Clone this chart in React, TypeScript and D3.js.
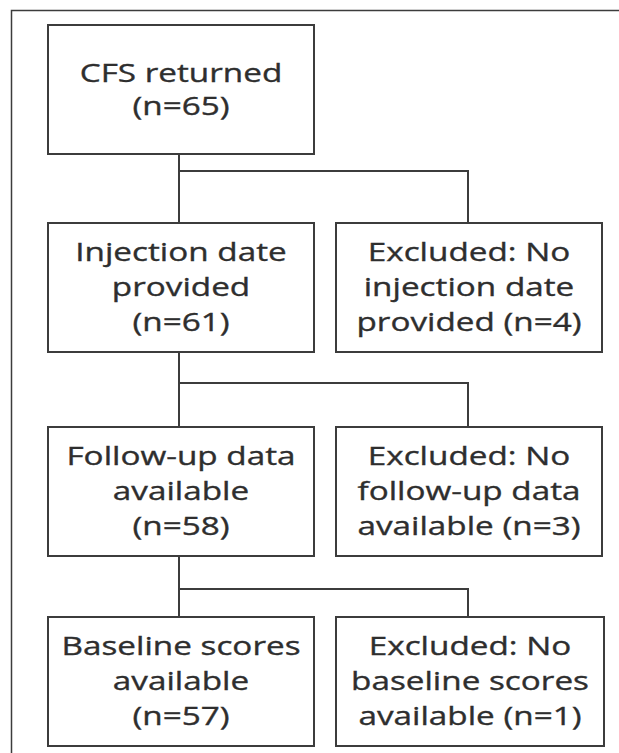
import React from "react";
import * as d3 from "d3";

// ---- data ----
const stages = ["CFS returned", "Injection date provided", "Follow-up data available", "Baseline scores available"];
const stageCounts = [65, 61, 58, 57];
const exclusions = ["", "No injection date provided", "No follow-up data available", "No baseline scores available"];
const exclusionCounts = [0, 4, 3, 1];

// text lines for each box (derived from data above)
const stageLines: string[][] = [
  ["CFS returned", `(n=${stageCounts[0]})`],
  ["Injection date", "provided", `(n=${stageCounts[1]})`],
  ["Follow-up data", "available", `(n=${stageCounts[2]})`],
  ["Baseline scores", "available", `(n=${stageCounts[3]})`],
];
const exclusionLines: string[][] = [
  [],
  ["Excluded: No", "injection date", `provided (n=${exclusionCounts[1]})`],
  ["Excluded: No", "follow-up data", `available (n=${exclusionCounts[2]})`],
  ["Excluded: No", "baseline scores", `available (n=${exclusionCounts[3]})`],
];

// ---- layout ----
const W = 619;
const H = 753;
const rowTop = [25, 223, 427, 617];
const rowBottom = [154, 352, 556, 746];
const branchY = [0, 171, 383, 589];
const leftX0 = 48, leftX1 = 314;
const rightX0 = 336, rightX1 = [0, 602, 602, 604];
const mainX = 179;
const sideX = 468;
const stroke = "#3c3c3c";
const textColor = "#2e2e2e";
const fontFamily = "'Open Sans', sans-serif";
const fontSize = 26;
const stretch = 1.28;

function Box({ x0, x1, y0, y1, lines, gap }: { x0: number; x1: number; y0: number; y1: number; lines: string[]; gap: number }) {
  const cx = (x0 + x1) / 2;
  const cy = (y0 + y1) / 2;
  const n = lines.length;
  return (
    <g>
      <rect x={x0} y={y0} width={x1 - x0} height={y1 - y0} fill="#fff" stroke={stroke} strokeWidth={2} />
      <g transform={`translate(${cx},0) scale(${stretch},1)`}>
        {lines.map((l, i) => (
          <text
            key={i}
            x={0}
            y={cy + 9 + (i - (n - 1) / 2) * gap}
            textAnchor="middle"
            fontFamily={fontFamily}
            fontSize={fontSize}
            fill={textColor}
            stroke={textColor}
            strokeWidth={0.35}
          >
            {l}
          </text>
        ))}
      </g>
    </g>
  );
}

export default function App() {
  const idx = d3.range(stages.length);
  return (
    <svg width={W} height={H} style={{ position: "absolute", left: 0, top: 0, background: "#fff" }}>
      <rect x={0} y={0} width={W} height={H} fill="#fff" />
      {/* outer frame: top and left only */}
      <path d={`M${W},10.5 H11.5 V${H}`} fill="none" stroke={stroke} strokeWidth={1.5} />
      {/* connectors */}
      {idx.slice(1).map((i) => (
        <g key={i} fill="none" stroke={stroke} strokeWidth={2}>
          <line x1={mainX} x2={mainX} y1={rowBottom[i - 1]} y2={rowTop[i]} />
          <path d={`M${mainX},${branchY[i]} H${sideX} V${rowTop[i]}`} />
        </g>
      ))}
      {idx.map((i) => (
        <Box key={"s" + i} x0={leftX0} x1={leftX1} y0={rowTop[i]} y1={rowBottom[i]} lines={stageLines[i]} gap={i === 0 ? 33 : 35} />
      ))}
      {idx.slice(1).map((i) => (
        <Box key={"e" + i} x0={rightX0} x1={rightX1[i]} y0={rowTop[i]} y1={rowBottom[i]} lines={exclusionLines[i]} gap={35} />
      ))}
    </svg>
  );
}
